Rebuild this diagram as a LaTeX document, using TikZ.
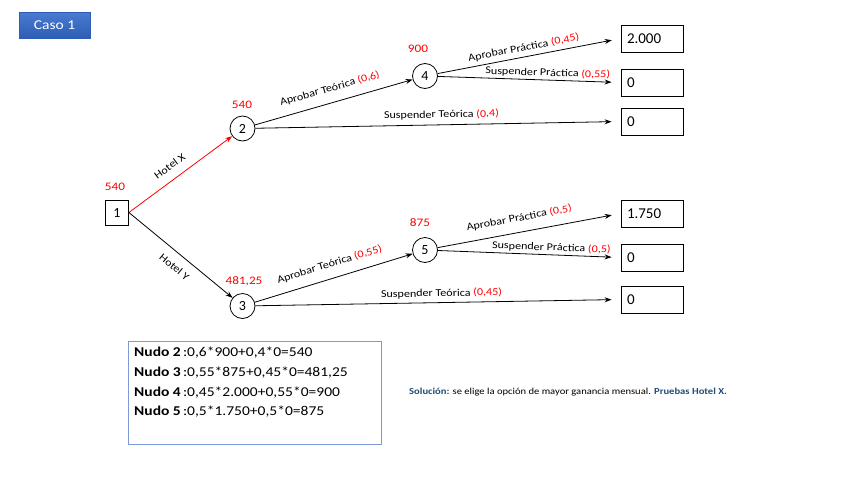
\documentclass[tikz,border=0pt]{standalone}
\usepackage{fontspec}
\setmainfont{Carlito}
\newfontfamily\wfont[FakeStretch=1.15]{Carlito}
\usetikzlibrary{arrows.meta,shapes.geometric}
\definecolor{solblue}{HTML}{1F4E79}
\definecolor{casotop}{HTML}{4A7BD0}
\definecolor{casobot}{HTML}{2D5DB5}
\definecolor{boxblue}{HTML}{7C9BD6}
\begin{document}
\begin{tikzpicture}[x=1pt,y=-1pt,
  chance/.style={circle,draw,line width=0.8pt,minimum size=25pt,inner sep=0pt,font=\fontsize{14}{14}\selectfont},
  decision/.style={rectangle,draw,line width=0.8pt,minimum width=23pt,minimum height=25pt,inner sep=0pt,font=\fontsize{14}{14}\selectfont},
  term/.style={rectangle,draw,line width=0.8pt,minimum height=27pt,text width=50pt,inner xsep=6pt,align=left,font=\fontsize{15}{15}\selectfont},
  val/.style={text=red,font=\wfont\fontsize{11.5}{11.5}\selectfont,inner sep=0pt},
  lbl/.style={font=\wfont\fontsize{10.5}{10.5}\selectfont,sloped,inner xsep=0pt},
  arr/.style={-{Stealth[length=7pt,width=5pt]},line width=0.8pt},
  tarr/.style={arr,shorten >=9pt}
]
\useasboundingbox (0,0) rectangle (848,477);

% Caso 1 header
\node[top color=casotop,bottom color=casobot,draw=casobot,minimum width=71pt,minimum height=26pt,inner sep=0pt,text=white,font=\wfont\fontsize{13.5}{13.5}\selectfont] (caso) at (54.5,25) {Caso 1};

% decision / chance nodes
\node[decision] (n1) at (117,212.5) {1};
\node[chance] (n2) at (242.5,128.5) {2};
\node[chance] (n3) at (242.5,306) {3};
\node[chance] (n4) at (425,76) {4};
\node[chance] (n5) at (425,250) {5};

% terminal values
\node[term] (t1) at (652,38.5) {2.000};
\node[term] (t2) at (652,82.5) {0};
\node[term] (t3) at (652,121.5) {0};
\node[term] (t4) at (652,213.5) {1.750};
\node[term] (t5) at (652,257.5) {0};
\node[term] (t6) at (652,299.5) {0};

% expected values
\node[val] (v1) at (115,187) {540};
\node[val] (v2) at (242,105) {540};
\node[val] (v3) at (244,281) {481,25};
\node[val] (v4) at (418,49) {900};
\node[val] (v5) at (420,223) {875};

% branches
\draw[arr,red] (n1.east) -- (n2) node[lbl,pos=0.47,above,inner ysep=9pt,text=black] {Hotel X};
\draw[arr] (n1.east) -- (n3) node[lbl,pos=0.52,below,inner ysep=9pt] {Hotel Y};

\draw[arr] (n2) -- (n4) node[lbl,midway,above,inner ysep=9pt] {Aprobar Teórica \textcolor{red}{(0,6)}};
\draw[tarr] (n2) -- (t3.west) node[lbl,pos=0.51,above,inner ysep=5pt] {Suspender Teórica \textcolor{red}{(0,4)}};
\draw[tarr] (n4) -- (t1.west) node[lbl,pos=0.48,above,inner ysep=4pt] {Aprobar Práctica \textcolor{red}{(0,45)}};
\draw[tarr] (n4) -- (t2.west) node[lbl,pos=0.6,above,inner ysep=2pt] {Suspender Práctica \textcolor{red}{(0,55)}};

\draw[arr] (n3) -- (n5) node[lbl,midway,above,inner ysep=9pt] {Aprobar Teórica \textcolor{red}{(0,55)}};
\draw[tarr] (n3) -- (t6.west) node[lbl,pos=0.51,above,inner ysep=4pt] {Suspender Teórica \textcolor{red}{(0,45)}};
\draw[tarr] (n5) -- (t4.west) node[lbl,pos=0.46,above,inner ysep=9pt] {Aprobar Práctica \textcolor{red}{(0,5)}};
\draw[tarr] (n5) -- (t5.west) node[lbl,pos=0.62,above,inner ysep=2pt] {Suspender Práctica \textcolor{red}{(0,5)}};

% calculation box
\node[draw=boxblue,line width=1pt,minimum width=253pt,minimum height=103pt,inner sep=0pt] (calc) at (254.5,392.5) {};
\node[anchor=north west,align=left,inner sep=0pt,font=\wfont\fontsize{13.5}{19.7}\selectfont] (calctext) at (134,347)
{\textbf{Nudo 2}\,:0,6*900+0,4*0=540\\
 \textbf{Nudo 3}\,:0,55*875+0,45*0=481,25\\
 \textbf{Nudo 4}\,:0,45*2.000+0,55*0=900\\
 \textbf{Nudo 5}\,:0,5*1.750+0,5*0=875};

% solution
\node[anchor=west,inner sep=0pt,font=\wfont\fontsize{9.2}{9.2}\selectfont] (sol) at (409,392)
{\textcolor{solblue}{\textbf{Solución:}} se elige la opción de mayor ganancia mensual. \textcolor{solblue}{\textbf{Pruebas Hotel X.}}};
\end{tikzpicture}
\end{document}
